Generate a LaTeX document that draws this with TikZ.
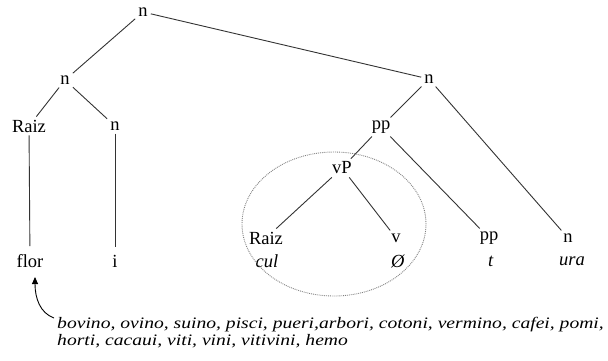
\documentclass[tikz,border=0pt]{standalone}
\usepackage{fontspec}
\setmainfont{Liberation Serif}
\usetikzlibrary{arrows.meta}
\begin{document}
\begin{tikzpicture}[x=1pt,y=-1pt,
  lab/.style={inner sep=3pt, font=\fontsize{18.5}{20}\selectfont},
  edge/.style={draw=black!80, line width=0.9pt}]
\useasboundingbox (0,0) rectangle (608,360);
\node[lab] (top) at (143,12) {n};
\node[lab] (nl) at (65,80) {n};
\node[lab] (raiz) at (29,126) {Raiz};
\node[lab] (ni) at (115,126) {n};
\node[lab,inner sep=8pt] (flor) at (30,261) {flor};
\node[lab,inner sep=8pt] (i) at (115,261) {i};
\node[lab] (nr) at (429,79) {n};
\node[lab] (pp) at (381,127) {pp};
\node[lab] (vp) at (342,168) {vP};
\node[lab] (raiz2) at (266,238) {Raiz};
\node[lab] (cul) at (267,261) {\textit{cul}};
\node[lab] (v) at (396,238) {v};
\node[lab] (zero) at (398,261) {\textit{Ø}};
\node[lab] (ppt) at (489,238) {pp};
\node[lab] (t) at (491,261) {\textit{t}};
\node[lab] (nu) at (568,238) {n};
\node[lab] (ura) at (572,261) {\textit{ura}};
\draw[edge] (top) -- (nl);
\draw[edge] (top) -- (nr);
\draw[edge] (nl) -- (raiz);
\draw[edge] (nl) -- (ni);
\draw[edge] (raiz) -- (flor);
\draw[edge] (ni) -- (i);
\draw[edge] (nr) -- (pp);
\draw[edge] (nr) -- (nu);
\draw[edge] (pp) -- (vp);
\draw[edge] (pp) -- (ppt);
\draw[edge] (vp) -- (raiz2);
\draw[edge] (vp) -- (v);
\draw[gray, densely dotted, line width=0.9pt] (334,224) ellipse [x radius=92pt, y radius=72pt];
\node[anchor=north west, inner sep=0pt, align=left] (list) at (57,316)
  {\scalebox{1.225}[1]{\fontsize{16}{17.5}\selectfont\itshape
   \begin{tabular}{@{}l@{}}bovino, ovino, suino, pisci, pueri,arbori, cotoni, vermino, cafei, pomi,\\
   horti, cacaui, viti, vini, vitivini, hemo\end{tabular}}};
\coordinate (arr) at (54,318);
\draw[line width=0.9pt, -{Triangle[length=7pt,width=6pt]}] (arr) .. controls (40,313) and (35,298) .. (35,277);
\end{tikzpicture}
\end{document}
